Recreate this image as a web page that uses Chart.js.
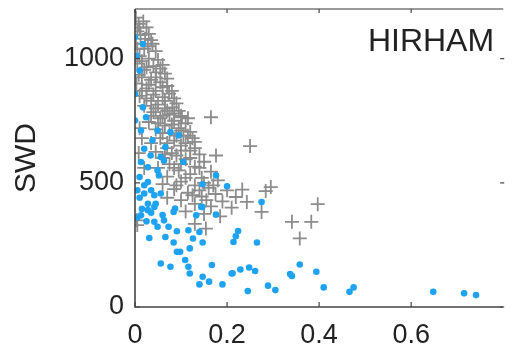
<!DOCTYPE html>
<html>
<head>
<meta charset="utf-8">
<script src="https://cdn.jsdelivr.net/npm/chart.js@4/dist/chart.umd.min.js"></script>
<style>
  html, body { margin: 0; padding: 0; background: #fff; }
  #wrap { width: 512px; height: 351px; }
  #myChart { filter: blur(0.4px); }
</style>
</head>
<body>
<div id="wrap"><canvas id="myChart" width="512" height="351"></canvas></div>
<script>
// data
var panelName = 'HIRHAM';
var yTitle = 'SWD';
var xTicks = [0, 0.2, 0.4, 0.6];
var yTicks = [0, 500, 1000];
var xMax = 0.8;
var yMax = 1200;

// gray crosses
var grayX = [0.002,0.008,0.018,0.025,0.005,0.012,0.03,
  0.038,0.002,0.02,0.045,0.01,0.03,
  0.005,0.04,0.06,0.02,0.046,0.065,0.015,0.035,0.055,0.003,
  0.07,0.025,0.045,0.074,0.01,0.06,0.085,0.035,0.05,0.081,0.02,0.065,
  0.095,0.04,0.075,0.102,0.165,0.055,0.085,0.11,0.03,0.065,0.095,0.045,0.12,0.075,0.01,
  0.105,0.055,0.085,0.13,0.035,0.1,0.25,0.07,0.12,0.045,0.14,0.176,0.09,0.06,
  0.11,0.15,0.075,0.13,0.05,0.095,0.165,0.12,0.07,0.145,0.18,0.1,
  0.06,0.13,0.16,0.085,0.2,0.233,0.284,0.295,0.115,0.175,0.145,0.219,0.07,0.1,0.19,0.243,0.13,0.397,0.165,0.21,
  0.275,0.11,0.15,0.185,0.004,0.341,0.383,0.13,0.154,0.358,0.005,0.02,0.008,0.015,
  0.01,0.022,0.035,0.005,0.028,
  0.015,0.05,0.025,0.055,0.008,0.045,0.07,
  0.03,0.06,0.015,0.08,0.04,0.065,0.09,
  0.025,0.045,0.07,0.085,0.06,0.1,0.035,0.115,
  0.05,0.08,0.1,0.06,0.115,0.09,0.125,0.07,0.11,
  0.08,0.1,0.13,0.065,0.12,0.1,0.14,0.085,
  0.11,0.15,0.09,0.14,0.17,0.125,0.155];
var grayY = [1165,1140,1150,1126,1110,1095,1100,
  1060,1060,1040,1030,1010,1000,
  980,970,975,955,945,940,925,915,905,900,
  890,880,870,859,850,845,840,830,815,804,810,800,
  790,785,775,764,764,760,750,740,745,730,720,715,705,700,720,
  690,680,670,665,660,650,648,640,630,625,615,610,610,600,
  595,585,575,565,560,550,545,535,525,520,510,505,
  495,490,480,475,470,473,467,483,460,455,445,443,440,430,425,423,415,414,405,400,
  383,385,375,365,349,343,343,335,316,276,330,560,620,680,
  1125,1080,1075,1040,1050,
  990,995,965,960,935,925,920,
  895,885,870,870,855,830,820,
  840,800,790,780,770,770,770,760,
  740,735,710,700,690,690,680,660,660,
  620,630,640,615,600,575,560,560,
  520,500,490,470,490,450,430];

// blue dots
var blueX = [0.0,0.017,0.003,0.01,0.0,0.017,
  0.0,0.024,0.013,0.049,0.077,0.095,0.038,0.02,0.066,0.056,0.034,0.013,0.063,0.105,0.028,0.049,0.01,0.028,0.052,0.176,0.147,0.2,0.02,0.042,0.056,0.028,0.045,0.144,0.087,
  0.013,0.028,0.042,0.042,0.049,0.063,0.073,0.091,0.066,0.031,0.084,0.116,0.14,0.126,0.147,0.084,0.091,0.098,0.119,0.109,0.056,0.077,0.116,0.119,0.147,0.14,0.161,0.19,0.167,0.21,0.133,0.146,0.176,
  0.275,0.224,0.219,0.214,0.265,0.212,0.229,0.248,0.261,0.245,0.289,0.305,0.337,0.341,0.358,0.394,0.41,0.466,0.475,0.648,0.715,0.741,
  0.005,0.01,0.015,0.035,0.005,0.025,0.06,0.02,0.035];
var blueY = [1086,1059,1012,952,858,804,
  751,764,711,711,704,691,671,637,644,604,610,584,590,584,563,550,523,503,530,530,494,486,457,450,457,416,416,403,396,
  369,390,403,343,323,349,323,305,282,278,383,309,302,276,260,260,222,222,236,189,175,162,162,135,122,91,102,91,169,135,369,403,372,
  423,306,285,262,260,136,151,159,145,64,86,68,133,125,171,142,79,61,79,61,55,48,
  470,440,395,380,360,345,370,490,470];

function toPoints(xs, ys) {
  var pts = [];
  for (var i = 0; i < xs.length; i++) pts.push({x: xs[i], y: ys[i]});
  return pts;
}

var fontName = '"Liberation Sans", Arial, Helvetica, sans-serif';

// frame, inner ticks and panel name (matlab style)
const frame = {
  id: 'frame',
  afterDraw: (chart) => {
    const {ctx, chartArea} = chart;
    const xs = chart.scales.x, ys = chart.scales.y;
    const l = chartArea.left, r = chartArea.right, t = chartArea.top, b = chartArea.bottom;
    ctx.save();
    ctx.strokeStyle = '#999';
    ctx.lineWidth = 2;
    ctx.beginPath(); ctx.moveTo(l, t); ctx.lineTo(r, t); ctx.stroke();
    ctx.strokeStyle = '#444';
    ctx.lineWidth = 1.6;
    ctx.beginPath(); ctx.moveTo(l, t); ctx.lineTo(l, b); ctx.lineTo(r, b); ctx.stroke();
    ctx.lineWidth = 1.2;
    xTicks.forEach(function(v) {
      var px = xs.getPixelForValue(v);
      ctx.beginPath();
      ctx.moveTo(px, b); ctx.lineTo(px, b - 5);
      ctx.moveTo(px, t); ctx.lineTo(px, t + 4);
      ctx.stroke();
    });
    yTicks.forEach(function(v) {
      var py = ys.getPixelForValue(v);
      ctx.beginPath();
      ctx.moveTo(l, py); ctx.lineTo(l + 5, py);
      ctx.moveTo(r + 1, py); ctx.lineTo(r - 3, py);
      ctx.stroke();
    });
    ctx.fillStyle = '#222';
    ctx.font = '32px ' + fontName;
    ctx.textAlign = 'center';
    ctx.textBaseline = 'alphabetic';
    ctx.fillText(panelName, 431, 51);
    ctx.restore();
  }
};

const config = {
  type: 'scatter',
  data: {
    datasets: [{
      label: 'HIRHAM',
      data: toPoints(grayX, grayY),
      pointStyle: 'cross',
      pointRadius: 7,
      borderColor: '#8c8c8c',
      borderWidth: 1.8,
      order: 2
    }, {
      label: 'obs',
      data: toPoints(blueX, blueY),
      pointStyle: 'circle',
      pointRadius: 3.3,
      backgroundColor: '#1ea3f2',
      borderWidth: 0,
      order: 1
    }]
  },
  options: {
    responsive: false,
    animation: false,
    layout: { padding: { top: 9, right: 0, left: 0, bottom: 0 } },
    plugins: {
      legend: { display: false },
      tooltip: { enabled: false }
    },
    scales: {
      x: {
        type: 'linear',
        min: 0,
        max: xMax,
        grid: { display: false, drawTicks: false },
        border: { display: false },
        afterBuildTicks: (s) => { s.ticks = xTicks.map(v => ({value: v})); },
        afterFit: (s) => { s.height = 44; s.paddingLeft = 0; s.paddingRight = 0; },
        ticks: {
          color: '#222',
          padding: 12,
          font: { family: fontName, size: 27 },
          callback: (v) => String(v)
        }
      },
      y: {
        type: 'linear',
        min: 0,
        max: yMax,
        grid: { display: false, drawTicks: false },
        border: { display: false },
        afterBuildTicks: (s) => { s.ticks = yTicks.map(v => ({value: v})); },
        afterFit: (s) => { s.width = 135; s.paddingTop = 0; s.paddingBottom = 0; },
        title: {
          display: true,
          text: yTitle,
          color: '#222',
          font: { family: fontName, size: 30 },
          padding: { top: 9, bottom: 0 }
        },
        ticks: {
          color: '#222',
          padding: 11,
          font: { family: fontName, size: 27 },
          callback: (v) => String(v)
        }
      }
    }
  },
  plugins: [frame]
};

const myChart = new Chart(document.getElementById('myChart'), config);
</script>
</body>
</html>
